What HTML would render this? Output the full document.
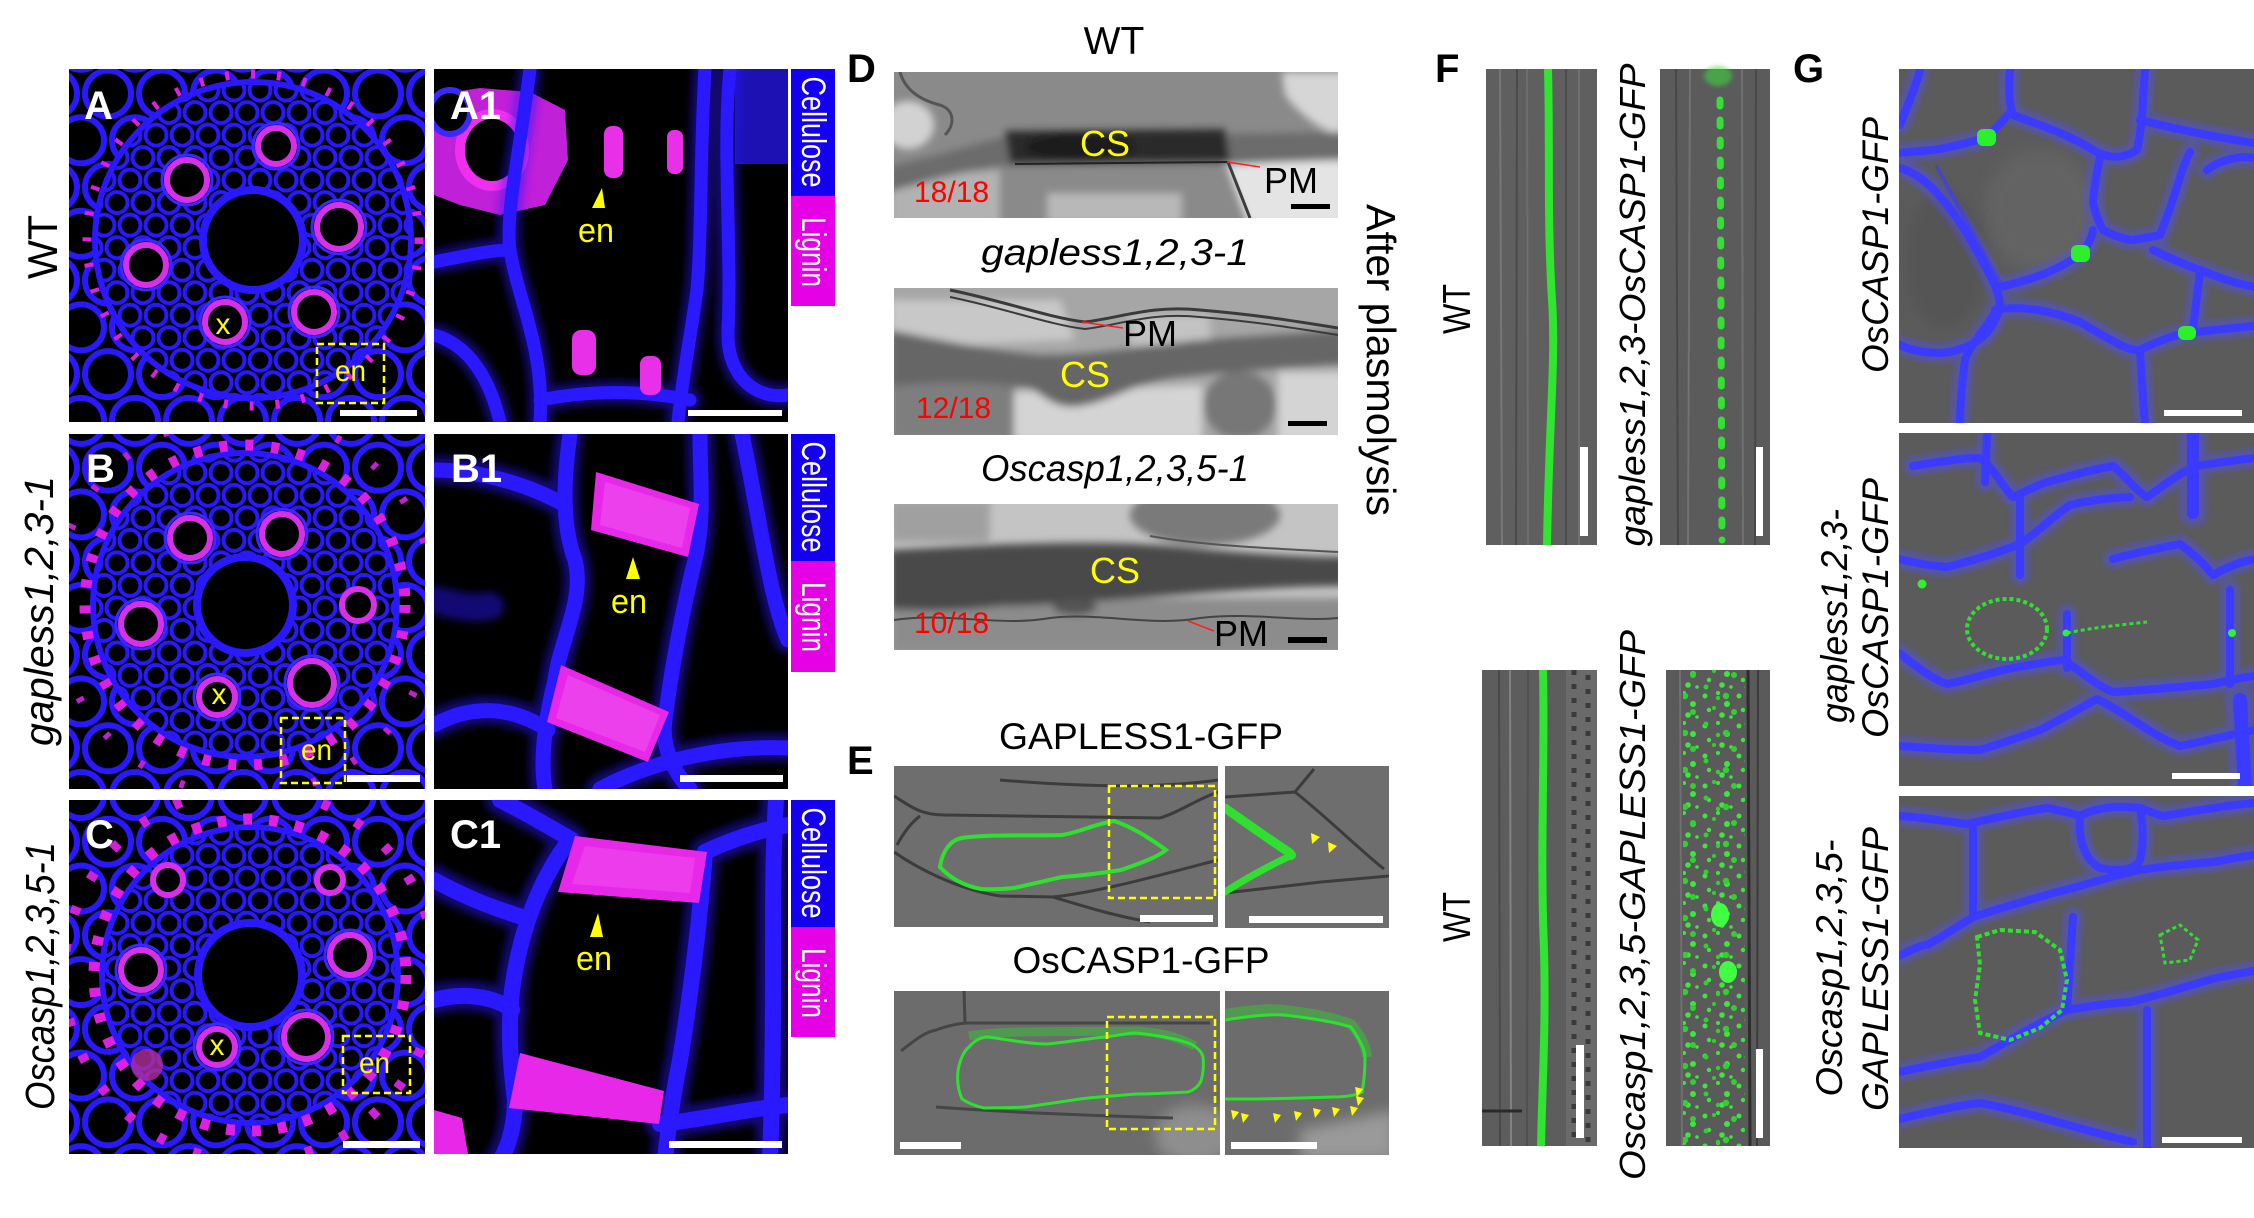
<!DOCTYPE html>
<html><head><meta charset="utf-8"><style>
html,body{margin:0;padding:0;background:#fff;}
svg{display:block;}
text{font-family:"Liberation Sans",Arial,sans-serif;}
</style></head><body>
<svg xmlns="http://www.w3.org/2000/svg" width="2254" height="1218" viewBox="0 0 2254 1218">
<defs>
 <filter id="b2" x="-20%" y="-20%" width="140%" height="140%"><feGaussianBlur stdDeviation="2"/></filter>
 <filter id="b4" x="-20%" y="-20%" width="140%" height="140%"><feGaussianBlur stdDeviation="4"/></filter>
 <filter id="b7" x="-20%" y="-20%" width="140%" height="140%"><feGaussianBlur stdDeviation="7"/></filter>
 <pattern id="cL" width="54" height="93.53" patternUnits="userSpaceOnUse">
  <rect width="54" height="93.53" fill="#000"/>
  <g fill="#000" stroke="#2a18ff" stroke-width="6">
   <circle cx="0" cy="0" r="23"/><circle cx="54" cy="0" r="23"/><circle cx="27" cy="46.77" r="23"/><circle cx="0" cy="93.53" r="23"/><circle cx="54" cy="93.53" r="23"/>
  </g>
 </pattern>
 <pattern id="cS" width="26" height="45.03" patternUnits="userSpaceOnUse">
  <rect width="26" height="45.03" fill="#000"/>
  <g fill="#000" stroke="#2a18ff" stroke-width="4">
   <circle cx="0" cy="0" r="10.5"/><circle cx="26" cy="0" r="10.5"/><circle cx="13" cy="22.5" r="10.5"/><circle cx="0" cy="45.03" r="10.5"/><circle cx="26" cy="45.03" r="10.5"/>
  </g>
 </pattern>
 <pattern id="gsp" width="34" height="30" patternUnits="userSpaceOnUse">
  <g fill="#3ae83a">
   <circle cx="5" cy="6" r="2.5"/><circle cx="18" cy="3" r="2"/><circle cx="27" cy="14" r="3"/><circle cx="9" cy="20" r="2.2"/><circle cx="22" cy="25" r="2.8"/><circle cx="31" cy="27" r="1.8"/>
  </g>
 </pattern>
 <pattern id="gsp2" width="41" height="37" patternUnits="userSpaceOnUse">
  <g fill="#2fd02f">
   <circle cx="12" cy="9" r="3"/><circle cx="33" cy="5" r="2"/><circle cx="25" cy="21" r="2.5"/><circle cx="4" cy="30" r="3.2"/><circle cx="37" cy="32" r="2.2"/>
  </g>
 </pattern>
 <clipPath id="clA"><rect x="69" y="69" width="356" height="353"/></clipPath>
 <clipPath id="clB"><rect x="69" y="434" width="356" height="355"/></clipPath>
 <clipPath id="clC"><rect x="69" y="800" width="356" height="354"/></clipPath>
 <clipPath id="clA1"><rect x="434" y="69" width="354" height="353"/></clipPath>
 <clipPath id="clB1"><rect x="434" y="434" width="354" height="355"/></clipPath>
 <clipPath id="clC1"><rect x="434" y="800" width="354" height="354"/></clipPath>
 <clipPath id="clD1"><rect x="894" y="72" width="444" height="146"/></clipPath>
 <clipPath id="clD2"><rect x="894" y="288" width="444" height="147"/></clipPath>
 <clipPath id="clD3"><rect x="894" y="504" width="444" height="146"/></clipPath>
 <clipPath id="clE1"><rect x="894" y="766" width="324" height="161"/></clipPath>
 <clipPath id="clE1i"><rect x="1225" y="766" width="164" height="162"/></clipPath>
 <clipPath id="clE2"><rect x="894" y="991" width="326" height="164"/></clipPath>
 <clipPath id="clE2i"><rect x="1225" y="991" width="164" height="164"/></clipPath>
 <clipPath id="clF4"><rect x="1683" y="670" width="62" height="476"/></clipPath>
 <clipPath id="clG1"><rect x="1899" y="69" width="355" height="354"/></clipPath>
 <clipPath id="clG2"><rect x="1899" y="433" width="355" height="353"/></clipPath>
 <clipPath id="clG3"><rect x="1899" y="796" width="355" height="352"/></clipPath>
</defs>
<rect width="2254" height="1218" fill="#fff"/>

<!-- ===== Panel A ===== -->
<g clip-path="url(#clA)">
 <rect x="69" y="69" width="356" height="353" fill="url(#cL)"/>
 <circle cx="253" cy="240" r="158" fill="url(#cS)"/>
 <circle cx="253" cy="240" r="158" fill="none" stroke="#2a18ff" stroke-width="6"/>
 <circle cx="253" cy="240" r="166" fill="none" stroke="#e020e0" stroke-width="9" stroke-dasharray="4 22"/>
 <circle cx="253" cy="240" r="50" fill="#000" stroke="#2a18ff" stroke-width="8"/>
 <g fill="#000" stroke="#d830e8" stroke-width="6">
  <circle cx="276" cy="146" r="18"/><circle cx="187" cy="180" r="20"/><circle cx="339" cy="227" r="22"/>
  <circle cx="146" cy="265" r="20"/><circle cx="225" cy="322" r="20"/><circle cx="314" cy="312" r="20"/>
 </g>
 <g fill="none" stroke="#3a28ff" stroke-width="3">
  <circle cx="276" cy="146" r="23"/><circle cx="187" cy="180" r="25"/><circle cx="339" cy="227" r="27"/>
  <circle cx="146" cy="265" r="25"/><circle cx="225" cy="322" r="25"/><circle cx="314" cy="312" r="25"/>
 </g>
 <rect x="317" y="344" width="67" height="59" fill="none" stroke="#ffff00" stroke-width="2.5" stroke-dasharray="7 4"/>
 <text x="223" y="334" font-size="30" fill="#ffff00" text-anchor="middle">x</text>
 <text x="335" y="381" font-size="30" fill="#ffff00" textLength="31" lengthAdjust="spacingAndGlyphs">en</text>
 <rect x="340" y="410" width="77" height="6" fill="#fff"/>
 <text x="84" y="119" font-size="40" font-weight="bold" fill="#fff">A</text>
</g>

<!-- ===== Panel B ===== -->
<g clip-path="url(#clB)">
 <rect x="69" y="434" width="356" height="355" fill="url(#cL)"/>
 <circle cx="245" cy="605" r="152" fill="url(#cS)"/>
 <circle cx="245" cy="605" r="152" fill="none" stroke="#2a18ff" stroke-width="6"/>
 <circle cx="245" cy="605" r="160" fill="none" stroke="#e020e0" stroke-width="11" stroke-dasharray="8 18"/>
 <circle cx="245" cy="605" r="190" fill="none" stroke="#c020d0" stroke-width="8" stroke-dasharray="5 40"/>
 <circle cx="245" cy="605" r="48" fill="#000" stroke="#2a18ff" stroke-width="8"/>
 <g fill="#000" stroke="#d830e8" stroke-width="6">
  <circle cx="282" cy="534" r="20"/><circle cx="190" cy="538" r="20"/><circle cx="141" cy="624" r="20"/>
  <circle cx="217" cy="697" r="18"/><circle cx="312" cy="683" r="22"/><circle cx="358" cy="605" r="16"/>
 </g>
 <g fill="none" stroke="#3a28ff" stroke-width="3">
  <circle cx="282" cy="534" r="25"/><circle cx="190" cy="538" r="25"/><circle cx="141" cy="624" r="25"/>
  <circle cx="217" cy="697" r="23"/><circle cx="312" cy="683" r="27"/>
 </g>
 <rect x="281" y="718" width="64" height="65" fill="none" stroke="#ffff00" stroke-width="2.5" stroke-dasharray="7 4"/>
 <text x="219" y="704" font-size="30" fill="#ffff00" text-anchor="middle">x</text>
 <text x="301" y="760" font-size="30" fill="#ffff00" textLength="31" lengthAdjust="spacingAndGlyphs">en</text>
 <rect x="347" y="775" width="73" height="7" fill="#fff"/>
 <text x="86" y="482" font-size="40" font-weight="bold" fill="#fff">B</text>
</g>

<!-- ===== Panel C ===== -->
<g clip-path="url(#clC)">
 <rect x="69" y="800" width="356" height="354" fill="url(#cL)"/>
 <circle cx="250" cy="975" r="148" fill="url(#cS)"/>
 <circle cx="250" cy="975" r="148" fill="none" stroke="#2a18ff" stroke-width="6"/>
 <circle cx="250" cy="975" r="156" fill="none" stroke="#e020e0" stroke-width="11" stroke-dasharray="9 17"/>
 <circle cx="250" cy="975" r="186" fill="none" stroke="#d020d8" stroke-width="10" stroke-dasharray="8 30"/>
 <circle cx="250" cy="975" r="52" fill="#000" stroke="#2a18ff" stroke-width="8"/>
 <g fill="#000" stroke="#d830e8" stroke-width="6">
  <circle cx="141" cy="970" r="20"/><circle cx="350" cy="955" r="20"/><circle cx="217" cy="1047" r="18"/>
  <circle cx="306" cy="1037" r="22"/><circle cx="168" cy="880" r="15"/><circle cx="330" cy="880" r="13"/>
 </g>
 <g fill="none" stroke="#3a28ff" stroke-width="3">
  <circle cx="141" cy="970" r="25"/><circle cx="350" cy="955" r="25"/><circle cx="217" cy="1047" r="23"/><circle cx="306" cy="1037" r="27"/>
 </g>
 <circle cx="147" cy="1065" r="16" fill="#b0309a" opacity="0.8"/>
 <rect x="343" y="1036" width="67" height="57" fill="none" stroke="#ffff00" stroke-width="2.5" stroke-dasharray="7 4"/>
 <text x="217" y="1055" font-size="30" fill="#ffff00" text-anchor="middle">x</text>
 <text x="359" y="1073" font-size="30" fill="#ffff00" textLength="31" lengthAdjust="spacingAndGlyphs">en</text>
 <rect x="343" y="1141" width="77" height="7" fill="#fff"/>
 <text x="85" y="848" font-size="40" font-weight="bold" fill="#fff">C</text>
</g>

<!-- ===== Panel A1 ===== -->
<g clip-path="url(#clA1)">
 <rect x="434" y="69" width="354" height="353" fill="#000"/>
 <path d="M434,95 L480,88 L530,92 L565,110 L568,160 L545,205 L500,215 L460,205 L434,195 Z" fill="#c020d8"/>
 <ellipse cx="492" cy="150" rx="32" ry="36" fill="#000" stroke="#ee30ee" stroke-width="10"/>
 <ellipse cx="450" cy="112" rx="20" ry="22" fill="#000" stroke="#3a28ff" stroke-width="6"/>
 <g fill="none" stroke="#2a18ff" stroke-linecap="round">
  <g stroke-width="24" opacity="0.45" filter="url(#b4)">
   <path d="M530,69 C520,150 505,215 510,250 C518,300 545,350 540,422"/>
   <path d="M434,262 C465,256 490,250 510,250"/>
   <path d="M434,335 C470,345 490,380 500,422"/>
   <path d="M705,69 C700,150 702,230 697,290 C690,340 682,380 678,422"/>
   <path d="M730,69 C722,150 732,250 728,330 C726,380 760,400 788,395"/>
   <path d="M540,400 C600,388 650,392 690,400"/>
  </g>
  <g stroke-width="13">
   <path d="M530,69 C520,150 505,215 510,250 C518,300 545,350 540,422"/>
   <path d="M434,262 C465,256 490,250 510,250"/>
   <path d="M434,335 C470,345 490,380 500,422"/>
   <path d="M705,69 C700,150 702,230 697,290 C690,340 682,380 678,422"/>
   <path d="M730,69 C722,150 732,250 728,330 C726,380 760,400 788,395"/>
   <path d="M540,400 C600,388 650,392 690,400"/>
  </g>
 </g>
 <rect x="735" y="69" width="53" height="95" fill="#2a18ff" opacity="0.7"/>
 <g fill="#e830e8">
  <rect x="604" y="126" width="19" height="52" rx="8"/>
  <rect x="667" y="130" width="16" height="44" rx="7"/>
  <rect x="572" y="330" width="24" height="45" rx="9"/>
  <rect x="640" y="356" width="21" height="39" rx="8"/>
 </g>
 <polygon points="602,188 592,208 605,208" fill="#ffff00"/>
 <text x="578" y="242" font-size="34" fill="#ffff00" textLength="36" lengthAdjust="spacingAndGlyphs">en</text>
 <rect x="688" y="410" width="94" height="6" fill="#fff"/>
 <text x="450" y="119" font-size="40" font-weight="bold" fill="#fff">A1</text>
</g>

<!-- ===== Panel B1 ===== -->
<g clip-path="url(#clB1)">
 <rect x="434" y="434" width="354" height="355" fill="#000"/>
 <g fill="none" stroke="#2a18ff" stroke-linecap="round">
  <g stroke-width="28" opacity="0.45" filter="url(#b4)">
   <path d="M570,434 C565,470 560,520 575,560 C585,600 560,640 555,680 C545,720 540,760 545,789"/>
   <path d="M700,434 C700,480 705,520 695,560 C680,620 670,680 665,720 C660,750 680,780 690,789"/>
   <path d="M434,470 C470,470 520,480 565,505"/>
   <path d="M434,725 C470,705 510,705 548,730"/>
   <path d="M742,434 C760,520 770,600 788,640"/>
   <path d="M600,789 C650,762 720,745 788,748"/>
   <path d="M434,600 C455,605 470,610 490,606"/>
  </g>
  <g stroke-width="15">
   <path d="M570,434 C565,470 560,520 575,560 C585,600 560,640 555,680 C545,720 540,760 545,789"/>
   <path d="M700,434 C700,480 705,520 695,560 C680,620 670,680 665,720 C660,750 680,780 690,789"/>
   <path d="M434,470 C470,470 520,480 565,505"/>
   <path d="M434,725 C470,705 510,705 548,730"/>
   <path d="M742,434 C760,520 770,600 788,640"/>
   <path d="M600,789 C650,762 720,745 788,748"/>
  </g>
 </g>
 <polygon points="596,472 699,504 688,557 591,530" fill="#e828e8"/>
 <polygon points="561,665 669,712 648,762 547,722" fill="#e828e8"/>
 <polygon points="605,482 690,508 682,548 600,525" fill="#f050f0" opacity="0.6"/>
 <polygon points="568,675 660,715 645,752 556,718" fill="#f050f0" opacity="0.6"/>
 <polygon points="633,557 626,579 640,579" fill="#ffff00"/>
 <text x="611" y="613" font-size="34" fill="#ffff00" textLength="36" lengthAdjust="spacingAndGlyphs">en</text>
 <rect x="680" y="775" width="103" height="7" fill="#fff"/>
 <text x="451" y="482" font-size="40" font-weight="bold" fill="#fff">B1</text>
</g>

<!-- ===== Panel C1 ===== -->
<g clip-path="url(#clC1)">
 <rect x="434" y="800" width="354" height="354" fill="#000"/>
 <g fill="none" stroke="#2a18ff" stroke-linecap="round">
  <g stroke-width="30" opacity="0.45" filter="url(#b4)">
   <path d="M500,800 C530,815 555,830 572,840"/>
   <path d="M568,842 C540,880 520,930 512,990 C508,1030 510,1060 515,1100 C515,1130 505,1154 500,1160"/>
   <path d="M434,880 C470,900 500,910 525,918"/>
   <path d="M434,1000 C470,990 500,1000 512,1010"/>
   <path d="M705,852 C700,920 690,1000 680,1060 C672,1100 668,1130 665,1160"/>
   <path d="M705,852 C730,840 760,830 788,825"/>
   <path d="M776,800 C770,900 776,1000 770,1160"/>
   <path d="M660,1124 C700,1120 740,1110 788,1105"/>
  </g>
  <g stroke-width="16">
   <path d="M500,800 C530,815 555,830 572,840"/>
   <path d="M568,842 C540,880 520,930 512,990 C508,1030 510,1060 515,1100 C515,1130 505,1154 500,1160"/>
   <path d="M434,880 C470,900 500,910 525,918"/>
   <path d="M434,1000 C470,990 500,1000 512,1010"/>
   <path d="M705,852 C700,920 690,1000 680,1060 C672,1100 668,1130 665,1160"/>
   <path d="M705,852 C730,840 760,830 788,825"/>
   <path d="M776,800 C770,900 776,1000 770,1160"/>
   <path d="M660,1124 C700,1120 740,1110 788,1105"/>
  </g>
 </g>
 <polygon points="575,836 707,852 699,903 558,892" fill="#e828e8"/>
 <polygon points="520,1053 664,1091 659,1124 509,1108" fill="#e828e8"/>
 <polygon points="434,1110 462,1118 468,1154 434,1154" fill="#e828e8"/>
 <polygon points="585,846 695,858 690,893 572,884" fill="#f050f0" opacity="0.5"/>
 <polygon points="598,913 590,937 603,937" fill="#ffff00"/>
 <text x="576" y="970" font-size="34" fill="#ffff00" textLength="36" lengthAdjust="spacingAndGlyphs">en</text>
 <rect x="669" y="1141" width="113" height="7" fill="#fff"/>
 <text x="450" y="848" font-size="40" font-weight="bold" fill="#fff">C1</text>
</g>

<!-- Legends -->
<rect x="791" y="69" width="44" height="127" fill="#1400f0"/>
<rect x="791" y="196" width="44" height="110" fill="#e600e6"/>
<rect x="791" y="434" width="44" height="127" fill="#1400f0"/>
<rect x="791" y="561" width="44" height="111" fill="#e600e6"/>
<rect x="791" y="800" width="44" height="127" fill="#1400f0"/>
<rect x="791" y="927" width="44" height="110" fill="#e600e6"/>
<g fill="#fff" font-size="34" text-anchor="middle">
 <text transform="translate(802,132) rotate(90)" textLength="111" lengthAdjust="spacingAndGlyphs">Cellulose</text>
 <text transform="translate(802,252) rotate(90)" textLength="70" lengthAdjust="spacingAndGlyphs">Lignin</text>
 <text transform="translate(802,497) rotate(90)" textLength="111" lengthAdjust="spacingAndGlyphs">Cellulose</text>
 <text transform="translate(802,617) rotate(90)" textLength="70" lengthAdjust="spacingAndGlyphs">Lignin</text>
 <text transform="translate(802,863) rotate(90)" textLength="111" lengthAdjust="spacingAndGlyphs">Cellulose</text>
 <text transform="translate(802,983) rotate(90)" textLength="70" lengthAdjust="spacingAndGlyphs">Lignin</text>
</g>

<!-- Row labels -->
<text transform="translate(57,247) rotate(-90)" font-size="42" text-anchor="middle" textLength="64" lengthAdjust="spacingAndGlyphs">WT</text>
<text transform="translate(53,611) rotate(-90)" font-size="41" font-style="italic" text-anchor="middle" textLength="270" lengthAdjust="spacingAndGlyphs">gapless1,2,3-1</text>
<text transform="translate(54,976) rotate(-90)" font-size="41" font-style="italic" text-anchor="middle" textLength="268" lengthAdjust="spacingAndGlyphs">Oscasp1,2,3,5-1</text>

<!-- ===== Panel D ===== -->
<text x="847" y="82" font-size="40" font-weight="bold">D</text>
<text x="1114" y="54" font-size="39" text-anchor="middle">WT</text>
<text x="1115" y="265" font-size="37" font-style="italic" text-anchor="middle" textLength="268" lengthAdjust="spacingAndGlyphs">gapless1,2,3-1</text>
<text x="1115" y="481" font-size="37" font-style="italic" text-anchor="middle" textLength="268" lengthAdjust="spacingAndGlyphs">Oscasp1,2,3,5-1</text>
<text transform="translate(1367,360) rotate(90)" font-size="41" text-anchor="middle" textLength="312" lengthAdjust="spacingAndGlyphs">After plasmolysis</text>

<g clip-path="url(#clD1)">
 <rect x="894" y="72" width="444" height="146" fill="#8a8a8a"/>
 <g filter="url(#b4)">
  <ellipse cx="908" cy="125" rx="26" ry="24" fill="#d2d2d2"/>
  <path d="M1282,72 L1345,72 L1345,138 C1320,130 1300,115 1285,95 Z" fill="#d6d6d6"/>
  <path d="M1226,165 L1345,158 L1345,225 L1248,225 Z" fill="#e4e4e4"/>
  <path d="M890,178 L1000,170 L1000,225 L890,225 Z" fill="#b2b2b2"/>
  <rect x="1047" y="193" width="135" height="30" fill="#b8b8b8"/>
  <path d="M890,166 C930,158 960,148 1000,138 L1345,132 L1345,160 L1230,164 L1000,166 C960,172 930,180 890,192 Z" fill="#6c6c6c"/>
  <path d="M1005,131 L1225,129 L1230,161 L1010,163 Z" fill="#2a2a2a"/>
  <ellipse cx="1080" cy="147" rx="55" ry="14" fill="#1a1a1a"/>
 </g>
 <path d="M1228,162 L1250,218" stroke="#3c3c3c" stroke-width="3" fill="none"/>
 <path d="M900,72 C905,90 920,100 940,105 C955,110 955,125 945,135" stroke="#555" stroke-width="3" fill="none"/>
 <path d="M1015,164 L1228,162" stroke="#222" stroke-width="2" fill="none"/>
</g>
<text x="1080" y="156" font-size="36" fill="#ffff00">CS</text>
<text x="914" y="202" font-size="30" fill="#ff0000">18/18</text>
<line x1="1227" y1="162" x2="1260" y2="167" stroke="#ff2020" stroke-width="1.5"/>
<text x="1264" y="193" font-size="36" fill="#000">PM</text>
<rect x="1291" y="204" width="39" height="5" fill="#000"/>

<g clip-path="url(#clD2)">
 <rect x="894" y="288" width="444" height="147" fill="#a6a6a6"/>
 <g filter="url(#b4)">
  <path d="M890,300 L1060,300 L1075,340 L890,348 Z" fill="#c8c8c8"/>
  <rect x="1130" y="315" width="80" height="30" fill="#c2c2c2"/>
  <rect x="890" y="380" width="125" height="60" fill="#7e7e7e"/>
  <path d="M1014,392 L1202,385 L1202,440 L1014,440 Z" fill="#d4d4d4"/>
  <ellipse cx="1240" cy="405" rx="36" ry="34" fill="#777"/>
  <rect x="1278" y="372" width="70" height="70" fill="#d4d4d4"/>
  <path d="M890,330 C950,342 1000,352 1040,355 C1100,355 1150,345 1200,340 L1345,330 L1345,364 C1280,368 1220,372 1170,378 C1130,385 1110,402 1080,406 C1055,410 1045,396 1030,388 C980,380 930,382 890,386 Z" fill="#666"/>
 </g>
 <g fill="none" stroke="#3a3a3a" stroke-width="3">
  <path d="M950,290 C1000,300 1050,318 1085,322 C1120,318 1150,305 1200,310 C1260,315 1300,322 1338,328"/>
  <path d="M950,297 C1000,307 1050,325 1085,329 C1120,325 1150,312 1200,317 C1260,322 1300,329 1338,335" stroke-width="2"/>
 </g>
</g>
<text x="1060" y="387" font-size="36" fill="#ffff00">CS</text>
<text x="916" y="418" font-size="30" fill="#ff0000">12/18</text>
<line x1="1082" y1="322" x2="1123" y2="328" stroke="#ff2020" stroke-width="1.5"/>
<text x="1123" y="346" font-size="36" fill="#000">PM</text>
<rect x="1288" y="421" width="39" height="5" fill="#000"/>

<g clip-path="url(#clD3)">
 <rect x="894" y="504" width="444" height="146" fill="#c4c4c4"/>
 <g filter="url(#b4)">
  <rect x="890" y="500" width="100" height="42" fill="#a0a0a0"/>
  <ellipse cx="1205" cy="515" rx="75" ry="30" fill="#7a7a7a"/>
  <rect x="890" y="598" width="455" height="56" fill="#8c8c8c"/>
  <path d="M890,550 C1000,544 1100,539 1180,547 C1250,554 1300,557 1345,557 L1345,586 C1300,586 1250,589 1200,593 C1120,599 1050,606 1000,606 C960,611 930,611 890,609 Z" fill="#4a4a4a"/>
  <ellipse cx="1075" cy="607" rx="22" ry="8" fill="#555"/>
 </g>
 <path d="M894,620 C950,612 1000,627 1050,618 C1100,612 1150,627 1200,618 C1250,612 1300,622 1338,618" fill="none" stroke="#444" stroke-width="2"/>
 <path d="M1150,536 C1200,545 1260,548 1338,552" fill="none" stroke="#555" stroke-width="2"/>
</g>
<text x="1090" y="583" font-size="36" fill="#ffff00">CS</text>
<text x="914" y="633" font-size="30" fill="#ff0000">10/18</text>
<line x1="1188" y1="621" x2="1214" y2="631" stroke="#ff2020" stroke-width="1.5"/>
<text x="1214" y="646" font-size="36" fill="#000">PM</text>
<rect x="1288" y="637" width="39" height="6" fill="#000"/>

<!-- ===== Panel E ===== -->
<text x="847" y="774" font-size="40" font-weight="bold">E</text>
<text x="1141" y="749" font-size="37" text-anchor="middle" textLength="284" lengthAdjust="spacingAndGlyphs">GAPLESS1-GFP</text>
<text x="1141" y="973" font-size="37" text-anchor="middle" textLength="257" lengthAdjust="spacingAndGlyphs">OsCASP1-GFP</text>

<g clip-path="url(#clE1)">
 <rect x="894" y="766" width="324" height="161" fill="#6e6e6e"/>
 <g fill="none" stroke="#3c3c3c" stroke-width="3">
  <path d="M894,796 C910,806 920,815 945,815 L1160,818 C1180,812 1195,800 1218,792"/>
  <path d="M897,845 C905,830 912,822 920,816"/>
  <path d="M894,852 C920,870 960,890 1000,896 L1053,897 C1100,892 1160,875 1218,860"/>
  <path d="M1053,897 C1080,905 1110,915 1150,922"/>
  <path d="M1000,780 C1060,785 1150,790 1218,780"/>
 </g>
 <path d="M940,867 C942,852 950,840 962,838 C990,834 1040,836 1062,835 C1080,832 1095,824 1114,821 C1130,826 1150,838 1166,850 C1160,855 1150,860 1121,870 C1090,875 1062,877 1062,877 C1040,882 1014,888 1014,888 C995,890 981,889 981,889 C965,886 951,879 940,867 Z" fill="none" stroke="#30e030" stroke-width="4"/>
 <rect x="1109" y="786" width="106" height="112" fill="none" stroke="#ffff00" stroke-width="2.5" stroke-dasharray="7 4"/>
 <rect x="1140" y="915" width="73" height="7" fill="#fff"/>
</g>
<g clip-path="url(#clE1i)">
 <rect x="1225" y="766" width="164" height="162" fill="#6e6e6e"/>
 <g fill="none" stroke="#3c3c3c" stroke-width="3">
  <path d="M1225,797 L1295,792 L1314,769"/>
  <path d="M1295,792 C1330,820 1360,850 1384,869"/>
  <path d="M1225,893 L1321,882 L1389,876"/>
 </g>
 <g fill="none" stroke="#30e030" stroke-linecap="round">
  <path d="M1225,808 C1245,822 1270,840 1290,853" stroke-width="9"/>
  <path d="M1225,892 C1245,879 1265,868 1290,856" stroke-width="7"/>
 </g>
 <circle cx="1291" cy="855" r="5" fill="#30e030"/>
 <polygon points="1311,833 1320,837 1312,844" fill="#ffff00"/>
 <polygon points="1328,842 1337,846 1329,853" fill="#ffff00"/>
 <rect x="1249" y="916" width="134" height="7" fill="#fff"/>
</g>

<g clip-path="url(#clE2)">
 <rect x="894" y="991" width="326" height="164" fill="#6c6c6c"/>
 <ellipse cx="1195" cy="1135" rx="40" ry="30" fill="#8e8e8e" filter="url(#b7)"/>
 <g fill="none" stroke="#454545" stroke-width="3">
  <path d="M901,1051 C915,1040 925,1032 936,1030 C950,1025 960,1023 969,1023 L1210,1023"/>
  <path d="M964,991 L965,1023"/>
  <path d="M936,1107 C1000,1112 1100,1116 1173,1118"/>
 </g>
 <path d="M969,1036 C1000,1030 1080,1032 1136,1031 C1160,1032 1180,1038 1195,1046" fill="none" stroke="#30d030" stroke-width="9" opacity="0.45"/>
 <path d="M958,1071 C960,1058 965,1050 969,1047 C975,1040 982,1037 988,1037 C1010,1040 1030,1044 1047,1044 C1070,1042 1090,1038 1106,1037 C1120,1035 1128,1033 1136,1033 C1165,1036 1180,1040 1191,1044 C1198,1048 1202,1052 1203,1057 C1204,1066 1203,1074 1201,1081 C1198,1087 1194,1090 1188,1092 C1170,1093 1150,1094 1136,1094 C1115,1096 1095,1097 1080,1099 C1060,1102 1040,1105 1025,1107 C1010,1108 995,1108 984,1108 C975,1106 968,1103 962,1099 C958,1090 957,1080 958,1071 Z" fill="none" stroke="#30e030" stroke-width="3"/>
 <rect x="1107" y="1017" width="108" height="112" fill="none" stroke="#ffff00" stroke-width="2.5" stroke-dasharray="7 4"/>
 <rect x="900" y="1142" width="61" height="7" fill="#fff"/>
</g>
<g clip-path="url(#clE2i)">
 <rect x="1225" y="991" width="164" height="164" fill="#6c6c6c"/>
 <path d="M1300,1130 L1395,1110 L1395,1160 L1300,1160 Z" fill="#9a9a9a" filter="url(#b7)"/>
 <path d="M1225,1014 C1250,1010 1270,1008 1284,1010 C1310,1013 1335,1018 1351,1024 C1360,1035 1366,1045 1367,1057" fill="none" stroke="#30d030" stroke-width="10" opacity="0.45"/>
 <path d="M1225,1020 C1250,1016 1270,1014 1284,1015 C1310,1018 1335,1022 1351,1027 C1360,1040 1365,1050 1365,1057 C1365,1070 1364,1082 1362,1092 C1355,1096 1345,1097 1332,1097 C1300,1098 1270,1099 1247,1099 L1225,1099" fill="none" stroke="#30e030" stroke-width="3"/>
 <g fill="#ffff00">
  <polygon points="1231,1110 1239,1112 1233,1120"/>
  <polygon points="1241,1113 1249,1115 1243,1123"/>
  <polygon points="1273,1113 1281,1115 1275,1123"/>
  <polygon points="1294,1111 1302,1113 1296,1121"/>
  <polygon points="1313,1108 1321,1110 1315,1118"/>
  <polygon points="1332,1107 1340,1109 1334,1117"/>
  <polygon points="1350,1106 1358,1108 1352,1116"/>
  <polygon points="1356,1096 1364,1098 1358,1106"/>
  <polygon points="1355,1087 1363,1089 1357,1097"/>
 </g>
 <rect x="1231" y="1142" width="86" height="7" fill="#fff"/>
</g>

<!-- ===== Panel F ===== -->
<text x="1435" y="82" font-size="40" font-weight="bold">F</text>
<text transform="translate(1470,309) rotate(-90)" font-size="39" text-anchor="middle" textLength="50" lengthAdjust="spacingAndGlyphs">WT</text>
<text transform="translate(1470,917) rotate(-90)" font-size="39" text-anchor="middle" textLength="50" lengthAdjust="spacingAndGlyphs">WT</text>
<text transform="translate(1645,305) rotate(-90)" font-size="36" font-style="italic" text-anchor="middle" textLength="483" lengthAdjust="spacingAndGlyphs">gapless1,2,3-OsCASP1-GFP</text>
<text transform="translate(1645,905) rotate(-90)" font-size="36" font-style="italic" text-anchor="middle" textLength="550" lengthAdjust="spacingAndGlyphs">Oscasp1,2,3,5-GAPLESS1-GFP</text>

<rect x="1486" y="69" width="111" height="476" fill="#5f5f5f"/>
<g stroke-width="2">
 <line x1="1500" y1="69" x2="1502" y2="545" stroke="#777"/>
 <line x1="1517" y1="69" x2="1516" y2="545" stroke="#4a4a4a"/>
 <line x1="1527" y1="69" x2="1528" y2="545" stroke="#6e6e6e"/>
 <line x1="1566" y1="69" x2="1566" y2="545" stroke="#4c4c4c"/>
 <line x1="1579" y1="69" x2="1579" y2="545" stroke="#707070"/>
</g>
<path d="M1548,69 C1550,150 1547,220 1552,300 C1556,360 1549,420 1547,545" stroke="#2fe52f" stroke-width="8" fill="none"/>
<rect x="1580" y="447" width="8" height="89" fill="#fff"/>

<rect x="1660" y="69" width="110" height="476" fill="#5b5b5b"/>
<g stroke-width="2">
 <line x1="1676" y1="69" x2="1678" y2="545" stroke="#474747"/>
 <line x1="1690" y1="69" x2="1688" y2="545" stroke="#727272"/>
 <line x1="1742" y1="69" x2="1743" y2="545" stroke="#707070"/>
 <line x1="1756" y1="69" x2="1755" y2="545" stroke="#484848"/>
</g>
<ellipse cx="1718" cy="76" rx="14" ry="10" fill="#3ae03a" opacity="0.55" filter="url(#b2)"/>
<line x1="1720" y1="100" x2="1722" y2="540" stroke="#35e035" stroke-width="7" stroke-dasharray="6 14" stroke-linecap="round"/>
<rect x="1756" y="447" width="7" height="89" fill="#fff"/>

<rect x="1482" y="670" width="115" height="476" fill="#5d5d5d"/>
<g stroke-width="2">
 <line x1="1499" y1="670" x2="1500" y2="1146" stroke="#4a4a4a"/>
 <line x1="1510" y1="670" x2="1511" y2="1146" stroke="#828282"/>
 <line x1="1528" y1="670" x2="1527" y2="1146" stroke="#505050"/>
</g>
<rect x="1566" y="670" width="31" height="476" fill="#6a6a6a"/>
<line x1="1574" y1="670" x2="1574" y2="1146" stroke="#3a3a3a" stroke-width="5" stroke-dasharray="5 9"/>
<line x1="1588" y1="675" x2="1588" y2="1146" stroke="#3a3a3a" stroke-width="5" stroke-dasharray="5 9"/>
<line x1="1482" y1="1111" x2="1522" y2="1111" stroke="#2a2a2a" stroke-width="3"/>
<path d="M1543,670 C1545,760 1540,850 1544,950 C1546,1030 1542,1090 1541,1146" stroke="#2fe52f" stroke-width="8" fill="none"/>
<rect x="1576" y="1045" width="8" height="93" fill="#fff"/>

<rect x="1666" y="670" width="104" height="476" fill="#5a5a5a"/>
<line x1="1748" y1="670" x2="1750" y2="1146" stroke="#2d2d2d" stroke-width="3"/>
<line x1="1758" y1="670" x2="1757" y2="1146" stroke="#3c3c3c" stroke-width="2"/>
<line x1="1680" y1="670" x2="1682" y2="1146" stroke="#707070" stroke-width="2"/>
<g clip-path="url(#clF4)">
 <rect x="1683" y="670" width="62" height="476" fill="url(#gsp)"/>
 <rect x="1683" y="670" width="62" height="476" fill="url(#gsp2)"/>
 <ellipse cx="1720" cy="915" rx="9" ry="12" fill="#40ff40"/>
 <ellipse cx="1728" cy="972" rx="9" ry="11" fill="#40ff40"/>
</g>
<rect x="1756" y="1049" width="7" height="89" fill="#fff"/>

<!-- ===== Panel G ===== -->
<text x="1793" y="82" font-size="40" font-weight="bold">G</text>
<g font-size="37" font-style="italic" text-anchor="middle">
 <text transform="translate(1888,245) rotate(-90)" textLength="256" lengthAdjust="spacingAndGlyphs">OsCASP1-GFP</text>
 <text transform="translate(1847,616) rotate(-90)" textLength="214" lengthAdjust="spacingAndGlyphs">gapless1,2,3-</text>
 <text transform="translate(1888,608) rotate(-90)" textLength="260" lengthAdjust="spacingAndGlyphs">OsCASP1-GFP</text>
 <text transform="translate(1842,968) rotate(-90)" textLength="257" lengthAdjust="spacingAndGlyphs">Oscasp1,2,3,5-</text>
 <text transform="translate(1888,969) rotate(-90)" textLength="284" lengthAdjust="spacingAndGlyphs">GAPLESS1-GFP</text>
</g>

<g clip-path="url(#clG1)">
 <rect x="1899" y="69" width="355" height="354" fill="#5b5b5b"/>
 <ellipse cx="2040" cy="210" rx="55" ry="60" fill="#646464" filter="url(#b7)"/>
 <ellipse cx="1945" cy="260" rx="40" ry="70" fill="#555" filter="url(#b7)"/>
 <g fill="none" stroke-linecap="round" stroke-linejoin="round">
  <g stroke="#5050ff" stroke-width="20" opacity="0.4" filter="url(#b2)">
   <path d="M2010,70 C2008,90 2010,108 2013,115 C2040,125 2070,135 2093,150 C2110,160 2125,158 2137,150 C2142,130 2143,100 2145,70"/>
   <path d="M2140,120 C2180,130 2220,138 2254,143"/>
   <path d="M2100,157 C2095,180 2093,200 2093,203 C2096,215 2100,225 2103,230 C2115,236 2125,240 2133,240 C2145,238 2155,236 2160,235 C2168,215 2173,200 2177,187 C2182,170 2186,160 2190,152"/>
   <path d="M1986,138 C1965,143 1950,148 1933,150 C1920,151 1910,152 1900,153"/>
   <path d="M1900,168 C1925,175 1945,200 1965,230 C1985,265 2000,290 2000,305 C1995,330 1980,345 1950,352 C1930,355 1910,350 1900,345"/>
   <path d="M1995,310 C2020,305 2050,310 2080,322 C2110,340 2130,352 2140,350 C2160,340 2175,335 2187,333 C2210,330 2235,328 2254,326"/>
   <path d="M2140,352 C2142,380 2143,400 2145,423"/>
   <path d="M2000,305 C1985,330 1970,345 1965,360 C1962,385 1960,405 1960,423"/>
   <path d="M2153,250 C2170,258 2185,265 2200,270 C2215,276 2230,282 2254,287"/>
   <path d="M2200,270 C2198,290 2195,310 2193,330"/>
   <path d="M2000,287 C2030,280 2055,272 2081,254 C2088,245 2092,238 2093,230"/>
   <path d="M1900,125 C1910,100 1918,80 1920,69"/>
   <path d="M2207,170 C2220,160 2240,155 2254,158"/>
  </g>
  <g stroke="#3b3bff" stroke-width="8">
   <path d="M2010,70 C2008,90 2010,108 2013,115 C2040,125 2070,135 2093,150 C2110,160 2125,158 2137,150 C2142,130 2143,100 2145,70"/>
   <path d="M2140,120 C2180,130 2220,138 2254,143"/>
   <path d="M2100,157 C2095,180 2093,200 2093,203 C2096,215 2100,225 2103,230 C2115,236 2125,240 2133,240 C2145,238 2155,236 2160,235 C2168,215 2173,200 2177,187 C2182,170 2186,160 2190,152"/>
   <path d="M1986,138 C1965,143 1950,148 1933,150 C1920,151 1910,152 1900,153"/>
   <path d="M1900,168 C1925,175 1945,200 1965,230 C1985,265 2000,290 2000,305 C1995,330 1980,345 1950,352 C1930,355 1910,350 1900,345"/>
   <path d="M1995,310 C2020,305 2050,310 2080,322 C2110,340 2130,352 2140,350 C2160,340 2175,335 2187,333 C2210,330 2235,328 2254,326"/>
   <path d="M2140,352 C2142,380 2143,400 2145,423"/>
   <path d="M2000,305 C1985,330 1970,345 1965,360 C1962,385 1960,405 1960,423"/>
   <path d="M2153,250 C2170,258 2185,265 2200,270 C2215,276 2230,282 2254,287"/>
   <path d="M2200,270 C2198,290 2195,310 2193,330"/>
   <path d="M2000,287 C2030,280 2055,272 2081,254 C2088,245 2092,238 2093,230"/>
   <path d="M1900,125 C1910,100 1918,80 1920,69"/>
   <path d="M2207,170 C2220,160 2240,155 2254,158"/>
   <path d="M1937,167 L2000,283" stroke-width="4" opacity="0.6"/>
   <path d="M1986,138 C1995,130 2003,120 2010,113"/>
  </g>
 </g>
 <rect x="1977" y="129" width="19" height="17" rx="6" fill="#2cf02c"/>
 <rect x="2071" y="245" width="19" height="17" rx="6" fill="#2cf02c"/>
 <rect x="2178" y="326" width="18" height="14" rx="6" fill="#2cf02c"/>
 <rect x="2164" y="410" width="78" height="6" fill="#fff"/>
</g>

<g clip-path="url(#clG2)">
 <rect x="1899" y="433" width="355" height="353" fill="#5b5b5b"/>
 <g fill="none" stroke-linecap="round" stroke-linejoin="round">
  <g stroke="#5050ff" stroke-width="20" opacity="0.4" filter="url(#b2)">
   <path d="M1913,466 C1940,462 1960,458 1980,458 C1995,470 2005,490 2013,497 C2025,492 2035,486 2047,482 C2070,476 2090,470 2113,466 C2125,475 2135,490 2147,497 C2165,485 2180,472 2197,466 C2220,462 2240,460 2254,458"/>
   <path d="M1899,559 C1915,563 1930,566 1947,567 C1975,560 2000,552 2020,544 C2040,530 2055,515 2070,505 C2090,500 2110,498 2130,497"/>
   <path d="M2113,559 C2135,553 2160,548 2180,544 C2195,555 2205,565 2213,575 C2225,568 2240,562 2254,559"/>
   <path d="M1899,653 C1915,665 1930,678 1947,684 C1970,680 1990,672 2013,668 C2030,665 2045,662 2063,660 C2080,670 2095,685 2113,692 C2150,690 2180,687 2213,684 C2230,680 2240,678 2254,676"/>
   <path d="M1899,746 C1930,748 1955,750 1980,750 C2000,744 2020,737 2040,730 C2060,720 2080,708 2097,699 C2130,715 2150,735 2180,746 C2210,740 2230,735 2254,730"/>
   <path d="M2020,497 L2020,575"/><path d="M2067,614 L2067,668"/><path d="M2230,590 L2230,684"/>
   <path d="M2193,435 L2193,513" stroke-width="28"/><path d="M1987,435 L1985,482"/>
   <path d="M2240,700 L2245,786" stroke-width="30"/>
  </g>
  <g stroke="#3b3bff" stroke-width="8">
   <path d="M1913,466 C1940,462 1960,458 1980,458 C1995,470 2005,490 2013,497 C2025,492 2035,486 2047,482 C2070,476 2090,470 2113,466 C2125,475 2135,490 2147,497 C2165,485 2180,472 2197,466 C2220,462 2240,460 2254,458"/>
   <path d="M1899,559 C1915,563 1930,566 1947,567 C1975,560 2000,552 2020,544 C2040,530 2055,515 2070,505 C2090,500 2110,498 2130,497"/>
   <path d="M2113,559 C2135,553 2160,548 2180,544 C2195,555 2205,565 2213,575 C2225,568 2240,562 2254,559"/>
   <path d="M1899,653 C1915,665 1930,678 1947,684 C1970,680 1990,672 2013,668 C2030,665 2045,662 2063,660 C2080,670 2095,685 2113,692 C2150,690 2180,687 2213,684 C2230,680 2240,678 2254,676"/>
   <path d="M1899,746 C1930,748 1955,750 1980,750 C2000,744 2020,737 2040,730 C2060,720 2080,708 2097,699 C2130,715 2150,735 2180,746 C2210,740 2230,735 2254,730"/>
   <path d="M2020,497 L2020,575"/><path d="M2067,614 L2067,668"/><path d="M2230,590 L2230,684"/>
   <path d="M2193,435 L2193,513" stroke-width="12"/><path d="M1987,435 L1985,482"/>
   <path d="M2240,700 L2245,786" stroke-width="14"/>
  </g>
 </g>
 <ellipse cx="2007" cy="629" rx="40" ry="30" fill="none" stroke="#30e030" stroke-width="4" stroke-dasharray="4 3"/>
 <path d="M2067,633 C2090,628 2120,625 2147,622" fill="none" stroke="#30e030" stroke-width="3" stroke-dasharray="4 3"/>
 <circle cx="1922" cy="584" r="4.5" fill="#30f030"/>
 <circle cx="2232" cy="633" r="4" fill="#30f030"/>
 <circle cx="2066" cy="633" r="3.5" fill="#30f030"/>
 <rect x="2172" y="773" width="68" height="6" fill="#fff"/>
</g>

<g clip-path="url(#clG3)">
 <rect x="1899" y="796" width="355" height="352" fill="#5b5b5b"/>
 <g fill="none" stroke-linecap="round" stroke-linejoin="round">
  <g stroke="#5050ff" stroke-width="20" opacity="0.4" filter="url(#b2)">
   <path d="M1899,816 C1930,818 1950,822 1967,824 C1995,818 2020,812 2047,808 C2060,810 2070,813 2080,816"/>
   <path d="M2080,816 C2078,840 2085,860 2100,868 C2120,872 2135,870 2140,860 C2145,840 2142,820 2140,808 C2115,805 2095,808 2080,816"/>
   <path d="M2140,808 C2150,812 2157,814 2163,816 C2190,812 2220,806 2254,803"/>
   <path d="M1899,956 C1910,950 1920,946 1929,944 C1945,935 1960,925 1973,917 C2010,905 2045,895 2080,886 C2100,880 2120,874 2140,870 C2165,866 2190,864 2213,862 C2230,859 2240,857 2254,855"/>
   <path d="M1973,824 L1973,917"/>
   <path d="M1899,1072 C1930,1066 1955,1060 1980,1057 C2010,1040 2040,1022 2067,1010 C2090,1006 2110,1003 2130,1002 C2160,995 2190,985 2213,979 C2230,975 2242,973 2254,971"/>
   <path d="M2073,917 L2067,1010"/>
   <path d="M1899,1119 C1930,1112 1955,1106 1980,1103 C2030,1112 2080,1130 2133,1142"/>
   <path d="M2147,1010 L2147,1148"/>
  </g>
  <g stroke="#3b3bff" stroke-width="8">
   <path d="M1899,816 C1930,818 1950,822 1967,824 C1995,818 2020,812 2047,808 C2060,810 2070,813 2080,816"/>
   <path d="M2080,816 C2078,840 2085,860 2100,868 C2120,872 2135,870 2140,860 C2145,840 2142,820 2140,808 C2115,805 2095,808 2080,816"/>
   <path d="M2140,808 C2150,812 2157,814 2163,816 C2190,812 2220,806 2254,803"/>
   <path d="M1899,956 C1910,950 1920,946 1929,944 C1945,935 1960,925 1973,917 C2010,905 2045,895 2080,886 C2100,880 2120,874 2140,870 C2165,866 2190,864 2213,862 C2230,859 2240,857 2254,855"/>
   <path d="M1973,824 L1973,917"/>
   <path d="M1899,1072 C1930,1066 1955,1060 1980,1057 C2010,1040 2040,1022 2067,1010 C2090,1006 2110,1003 2130,1002 C2160,995 2190,985 2213,979 C2230,975 2242,973 2254,971"/>
   <path d="M2073,917 L2067,1010"/>
   <path d="M1899,1119 C1930,1112 1955,1106 1980,1103 C2030,1112 2080,1130 2133,1142"/>
   <path d="M2147,1010 L2147,1148"/>
  </g>
 </g>
 <polygon points="1977,937 2000,930 2035,932 2060,950 2067,980 2062,1010 2040,1028 2010,1040 1980,1033 1975,1000 1980,965" fill="none" stroke="#30e030" stroke-width="4" stroke-dasharray="5 3"/>
 <polygon points="2160,935 2180,925 2198,940 2190,960 2165,963" fill="none" stroke="#30e030" stroke-width="3" stroke-dasharray="4 3"/>
 <rect x="2162" y="1137" width="80" height="6" fill="#fff"/>
</g>
</svg>
</body></html>
